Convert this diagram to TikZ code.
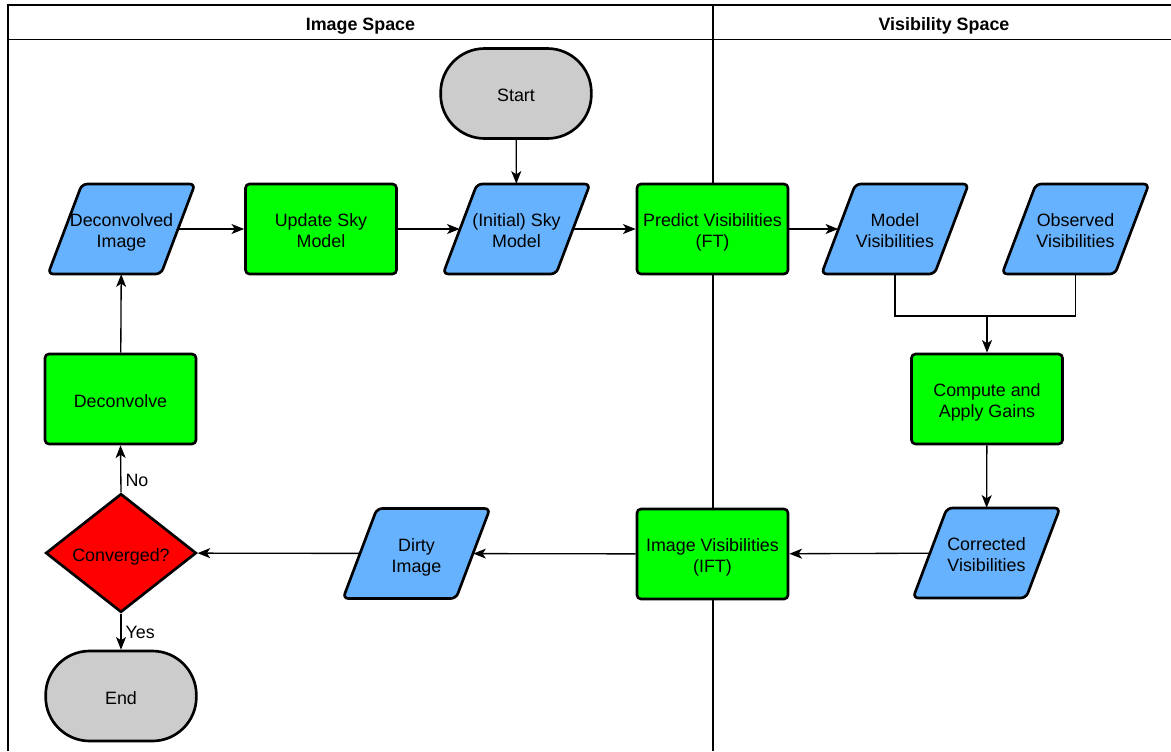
\documentclass[tikz,border=0pt]{standalone}
\usepackage{fontspec}
\setmainfont{Liberation Sans}
\usetikzlibrary{shapes.geometric,arrows.meta}
\definecolor{pblue}{HTML}{66B2FF}
\definecolor{pgreen}{HTML}{00FF00}
\definecolor{pred}{HTML}{FF0000}
\definecolor{pgray}{HTML}{CCCCCC}
\newcommand\mytopstrut{\rule{0pt}{15.5pt}}
\newcommand\mybotstrut{\rule[-2.84pt]{0pt}{2.84pt}}
\tikzset{
  txt/.style={execute at begin node=\mytopstrut, execute at end node=\mybotstrut},
  procbox/.style={txt, rectangle, draw, line width=2pt, rounded corners=3pt, fill=pgreen,
    minimum width=113.25pt, minimum height=67.5pt, align=center, inner sep=0pt},
  iofill/.style={draw, line width=2pt, rounded corners=4pt, fill=pblue},
  iotext/.style={txt, rectangle, minimum width=84.75pt, minimum height=67.5pt,
    align=center, inner sep=0pt},
  termbox/.style={txt, rectangle, rounded corners=33pt, draw, line width=2pt, fill=pgray,
    minimum width=113pt, minimum height=67.5pt, align=center, inner sep=0pt},
  decbox/.style={txt, diamond, aspect=1.27, draw, line width=2pt, fill=pred,
    minimum width=113pt, minimum height=89pt, align=center, inner sep=0pt},
  conn/.style={line width=1pt},
  arr/.style={conn, -{Stealth[length=9.5pt,width=7.5pt,inset=2.5pt]}},
  lane/.style={line width=1.2pt},
  lbl/.style={txt, inner sep=3pt},
  hdr/.style={txt, font=\fontsize{13.4}{15.75}\selectfont\bfseries, inner sep=0pt}
}
% io node: name, centre, text
\newcommand\ionode[3]{%
  \draw[iofill, shift={(#2)}] (-73.5,45) -- (-39.5,-45) -- (73.5,-45) -- (39.5,45) -- cycle;
  \node[iotext] (#1) at (#2) {#3};}
\begin{document}
\begin{tikzpicture}[x=0.75pt,y=-0.75pt, font=\fontsize{13.4}{15.75}\selectfont]
\useasboundingbox[fill=white] (0,0) rectangle (1171,751);
% swimlanes
\draw[lane] (8,751) -- (8,5) -- (1171,5);
\draw[lane] (8,39.5) -- (1171,39.5);
\draw[lane] (713,5) -- (713,751);
\node[hdr] (h1) at (360.5,22.25) {Image Space};
\node[hdr] (h2) at (944,22.25) {Visibility Space};
% nodes
\node[termbox] (start) at (516,93.5) {Start};
\ionode{dimg}{121.5,229}{\mytopstrut Deconvolved\\Image}
\node[procbox] (upd) at (321,229) {\mytopstrut Update Sky\\Model};
\ionode{init}{516.5,229}{\mytopstrut (Initial) Sky\\Model}
\node[procbox] (pred) at (712.5,229) {\mytopstrut Predict Visibilities\\(FT)};
\ionode{mvis}{895,229}{\mytopstrut Model\\Visibilities}
\ionode{ovis}{1075.5,229}{\mytopstrut Observed\\Visibilities}
\node[procbox] (cmp) at (987,399) {\mytopstrut Compute and\\Apply Gains};
\node[procbox] (decv) at (120.5,399) {Deconvolve};
\node[decbox] (conv) at (121,553) {Converged?};
\ionode{dirty}{416.5,553.5}{\mytopstrut Dirty\\Image}
\node[procbox] (ift) at (712.5,554) {\mytopstrut Image Visibilities\\(IFT)};
\ionode{corr}{986.5,553}{\mytopstrut Corrected\\Visibilities}
\node[termbox] (endn) at (121,696) {End};
\coordinate (j) at (987,316);
% connectors
\draw[arr] (start) -- (init);
\draw[arr] (dimg) -- (upd);
\draw[arr] (upd) -- (init);
\draw[arr] (init) -- (pred);
\draw[arr] (pred) -- (mvis);
\draw[conn] (mvis.south) |- (j);
\draw[conn] (ovis.south) |- (j);
\draw[arr] (j) -- (cmp.north);
\draw[arr] (cmp) -- (corr);
\draw[arr] (corr) -- (ift);
\draw[arr] (ift) -- (dirty);
\draw[arr] (dirty) -- (conv);
\draw[arr] (conv.north) -- node[lbl, pos=0.3, right] {No} (decv.south);
\draw[arr] (conv.south) -- node[lbl, pos=0.45, right] {Yes} (endn.north);
\draw[arr] (decv) -- (dimg);
\end{tikzpicture}
\end{document}
